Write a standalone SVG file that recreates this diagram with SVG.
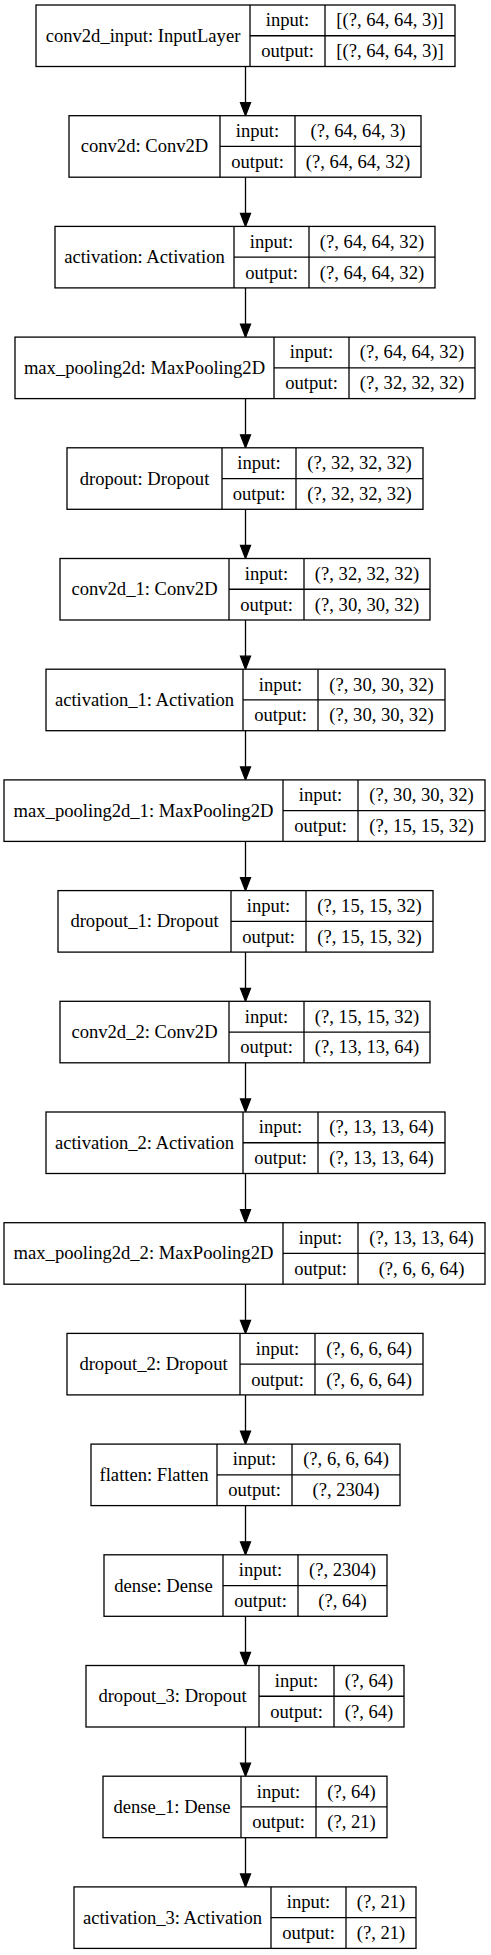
<svg xmlns="http://www.w3.org/2000/svg" width="491" height="1955" viewBox="0 0 491 1955">
<style>
rect.b{fill:#fff;stroke:#000;stroke-width:1.3}
line.s{stroke:#000;stroke-width:1.3}
text{font-family:"Liberation Serif","Times New Roman",serif;font-size:18.6px;fill:#000;text-anchor:middle}
.e line{stroke:#000;stroke-width:1.3}
.e polygon{fill:#000;stroke:#000;stroke-width:1.3}
</style>
<rect width="491" height="1955" fill="#fff"/>
<g class="e" id="edges">
<line x1="245.5" y1="66.5" x2="245.5" y2="102.7"/><polygon points="240.5,102.7 250.5,102.7 245.5,115.7"/>
<line x1="245.5" y1="177.2" x2="245.5" y2="213.4"/><polygon points="240.5,213.4 250.5,213.4 245.5,226.4"/>
<line x1="245.5" y1="287.9" x2="245.5" y2="324.1"/><polygon points="240.5,324.1 250.5,324.1 245.5,337.1"/>
<line x1="245.5" y1="398.6" x2="245.5" y2="434.8"/><polygon points="240.5,434.8 250.5,434.8 245.5,447.8"/>
<line x1="245.5" y1="509.3" x2="245.5" y2="545.5"/><polygon points="240.5,545.5 250.5,545.5 245.5,558.5"/>
<line x1="245.5" y1="620" x2="245.5" y2="656.2"/><polygon points="240.5,656.2 250.5,656.2 245.5,669.2"/>
<line x1="245.5" y1="730.7" x2="245.5" y2="766.9"/><polygon points="240.5,766.9 250.5,766.9 245.5,779.9"/>
<line x1="245.5" y1="841.4" x2="245.5" y2="877.6"/><polygon points="240.5,877.6 250.5,877.6 245.5,890.6"/>
<line x1="245.5" y1="952.1" x2="245.5" y2="988.3"/><polygon points="240.5,988.3 250.5,988.3 245.5,1001.3"/>
<line x1="245.5" y1="1062.8" x2="245.5" y2="1099"/><polygon points="240.5,1099 250.5,1099 245.5,1112"/>
<line x1="245.5" y1="1173.5" x2="245.5" y2="1209.7"/><polygon points="240.5,1209.7 250.5,1209.7 245.5,1222.7"/>
<line x1="245.5" y1="1284.2" x2="245.5" y2="1320.4"/><polygon points="240.5,1320.4 250.5,1320.4 245.5,1333.4"/>
<line x1="245.5" y1="1394.9" x2="245.5" y2="1431.1"/><polygon points="240.5,1431.1 250.5,1431.1 245.5,1444.1"/>
<line x1="245.5" y1="1505.6" x2="245.5" y2="1541.8"/><polygon points="240.5,1541.8 250.5,1541.8 245.5,1554.8"/>
<line x1="245.5" y1="1616.3" x2="245.5" y2="1652.5"/><polygon points="240.5,1652.5 250.5,1652.5 245.5,1665.5"/>
<line x1="245.5" y1="1727" x2="245.5" y2="1763.2"/><polygon points="240.5,1763.2 250.5,1763.2 245.5,1776.2"/>
<line x1="245.5" y1="1837.7" x2="245.5" y2="1873.9"/><polygon points="240.5,1873.9 250.5,1873.9 245.5,1886.9"/>
</g>
<g id="n0" transform="translate(0,5)"><rect class="b" x="36" y="0" width="419" height="61.5"/><line class="s" x1="250" y1="0" x2="250" y2="61.5"/><line class="s" x1="325" y1="0" x2="325" y2="61.5"/><line class="s" x1="250" y1="30.75" x2="455" y2="30.75"/><text x="143" y="36.8">conv2d_input: InputLayer</text><text x="287.5" y="21.4">input:</text><text x="287.5" y="52.2">output:</text><text x="390" y="21.4">[(?, 64, 64, 3)]</text><text x="390" y="52.2">[(?, 64, 64, 3)]</text></g>
<g id="n1" transform="translate(0,115.7)"><rect class="b" x="69" y="0" width="352" height="61.5"/><line class="s" x1="220" y1="0" x2="220" y2="61.5"/><line class="s" x1="295" y1="0" x2="295" y2="61.5"/><line class="s" x1="220" y1="30.75" x2="421" y2="30.75"/><text x="144.5" y="36.8">conv2d: Conv2D</text><text x="257.5" y="21.4">input:</text><text x="257.5" y="52.2">output:</text><text x="358" y="21.4">(?, 64, 64, 3)</text><text x="358" y="52.2">(?, 64, 64, 32)</text></g>
<g id="n2" transform="translate(0,226.4)"><rect class="b" x="55" y="0" width="380" height="61.5"/><line class="s" x1="234" y1="0" x2="234" y2="61.5"/><line class="s" x1="309" y1="0" x2="309" y2="61.5"/><line class="s" x1="234" y1="30.75" x2="435" y2="30.75"/><text x="144.5" y="36.8">activation: Activation</text><text x="271.5" y="21.4">input:</text><text x="271.5" y="52.2">output:</text><text x="372" y="21.4">(?, 64, 64, 32)</text><text x="372" y="52.2">(?, 64, 64, 32)</text></g>
<g id="n3" transform="translate(0,337.1)"><rect class="b" x="15" y="0" width="460" height="61.5"/><line class="s" x1="274" y1="0" x2="274" y2="61.5"/><line class="s" x1="349" y1="0" x2="349" y2="61.5"/><line class="s" x1="274" y1="30.75" x2="475" y2="30.75"/><text x="144.5" y="36.8">max_pooling2d: MaxPooling2D</text><text x="311.5" y="21.4">input:</text><text x="311.5" y="52.2">output:</text><text x="412" y="21.4">(?, 64, 64, 32)</text><text x="412" y="52.2">(?, 32, 32, 32)</text></g>
<g id="n4" transform="translate(0,447.8)"><rect class="b" x="67" y="0" width="356" height="61.5"/><line class="s" x1="222" y1="0" x2="222" y2="61.5"/><line class="s" x1="296" y1="0" x2="296" y2="61.5"/><line class="s" x1="222" y1="30.75" x2="423" y2="30.75"/><text x="144.5" y="36.8">dropout: Dropout</text><text x="259" y="21.4">input:</text><text x="259" y="52.2">output:</text><text x="359.5" y="21.4">(?, 32, 32, 32)</text><text x="359.5" y="52.2">(?, 32, 32, 32)</text></g>
<g id="n5" transform="translate(0,558.5)"><rect class="b" x="60" y="0" width="370" height="61.5"/><line class="s" x1="229" y1="0" x2="229" y2="61.5"/><line class="s" x1="304" y1="0" x2="304" y2="61.5"/><line class="s" x1="229" y1="30.75" x2="430" y2="30.75"/><text x="144.5" y="36.8">conv2d_1: Conv2D</text><text x="266.5" y="21.4">input:</text><text x="266.5" y="52.2">output:</text><text x="367" y="21.4">(?, 32, 32, 32)</text><text x="367" y="52.2">(?, 30, 30, 32)</text></g>
<g id="n6" transform="translate(0,669.2)"><rect class="b" x="46" y="0" width="399" height="61.5"/><line class="s" x1="243" y1="0" x2="243" y2="61.5"/><line class="s" x1="318" y1="0" x2="318" y2="61.5"/><line class="s" x1="243" y1="30.75" x2="445" y2="30.75"/><text x="144.5" y="36.8">activation_1: Activation</text><text x="280.5" y="21.4">input:</text><text x="280.5" y="52.2">output:</text><text x="381.5" y="21.4">(?, 30, 30, 32)</text><text x="381.5" y="52.2">(?, 30, 30, 32)</text></g>
<g id="n7" transform="translate(0,779.9)"><rect class="b" x="4" y="0" width="481" height="61.5"/><line class="s" x1="283" y1="0" x2="283" y2="61.5"/><line class="s" x1="358" y1="0" x2="358" y2="61.5"/><line class="s" x1="283" y1="30.75" x2="485" y2="30.75"/><text x="143.5" y="36.8">max_pooling2d_1: MaxPooling2D</text><text x="320.5" y="21.4">input:</text><text x="320.5" y="52.2">output:</text><text x="421.5" y="21.4">(?, 30, 30, 32)</text><text x="421.5" y="52.2">(?, 15, 15, 32)</text></g>
<g id="n8" transform="translate(0,890.6)"><rect class="b" x="58" y="0" width="375" height="61.5"/><line class="s" x1="231" y1="0" x2="231" y2="61.5"/><line class="s" x1="306" y1="0" x2="306" y2="61.5"/><line class="s" x1="231" y1="30.75" x2="433" y2="30.75"/><text x="144.5" y="36.8">dropout_1: Dropout</text><text x="268.5" y="21.4">input:</text><text x="268.5" y="52.2">output:</text><text x="369.5" y="21.4">(?, 15, 15, 32)</text><text x="369.5" y="52.2">(?, 15, 15, 32)</text></g>
<g id="n9" transform="translate(0,1001.3)"><rect class="b" x="60" y="0" width="370" height="61.5"/><line class="s" x1="229" y1="0" x2="229" y2="61.5"/><line class="s" x1="304" y1="0" x2="304" y2="61.5"/><line class="s" x1="229" y1="30.75" x2="430" y2="30.75"/><text x="144.5" y="36.8">conv2d_2: Conv2D</text><text x="266.5" y="21.4">input:</text><text x="266.5" y="52.2">output:</text><text x="367" y="21.4">(?, 15, 15, 32)</text><text x="367" y="52.2">(?, 13, 13, 64)</text></g>
<g id="n10" transform="translate(0,1112)"><rect class="b" x="46" y="0" width="399" height="61.5"/><line class="s" x1="243" y1="0" x2="243" y2="61.5"/><line class="s" x1="318" y1="0" x2="318" y2="61.5"/><line class="s" x1="243" y1="30.75" x2="445" y2="30.75"/><text x="144.5" y="36.8">activation_2: Activation</text><text x="280.5" y="21.4">input:</text><text x="280.5" y="52.2">output:</text><text x="381.5" y="21.4">(?, 13, 13, 64)</text><text x="381.5" y="52.2">(?, 13, 13, 64)</text></g>
<g id="n11" transform="translate(0,1222.7)"><rect class="b" x="4" y="0" width="481" height="61.5"/><line class="s" x1="283" y1="0" x2="283" y2="61.5"/><line class="s" x1="358" y1="0" x2="358" y2="61.5"/><line class="s" x1="283" y1="30.75" x2="485" y2="30.75"/><text x="143.5" y="36.8">max_pooling2d_2: MaxPooling2D</text><text x="320.5" y="21.4">input:</text><text x="320.5" y="52.2">output:</text><text x="421.5" y="21.4">(?, 13, 13, 64)</text><text x="421.5" y="52.2">(?, 6, 6, 64)</text></g>
<g id="n12" transform="translate(0,1333.4)"><rect class="b" x="67" y="0" width="356" height="61.5"/><line class="s" x1="240" y1="0" x2="240" y2="61.5"/><line class="s" x1="315" y1="0" x2="315" y2="61.5"/><line class="s" x1="240" y1="30.75" x2="423" y2="30.75"/><text x="153.5" y="36.8">dropout_2: Dropout</text><text x="277.5" y="21.4">input:</text><text x="277.5" y="52.2">output:</text><text x="369" y="21.4">(?, 6, 6, 64)</text><text x="369" y="52.2">(?, 6, 6, 64)</text></g>
<g id="n13" transform="translate(0,1444.1)"><rect class="b" x="91" y="0" width="309" height="61.5"/><line class="s" x1="217" y1="0" x2="217" y2="61.5"/><line class="s" x1="292" y1="0" x2="292" y2="61.5"/><line class="s" x1="217" y1="30.75" x2="400" y2="30.75"/><text x="154" y="36.8">flatten: Flatten</text><text x="254.5" y="21.4">input:</text><text x="254.5" y="52.2">output:</text><text x="346" y="21.4">(?, 6, 6, 64)</text><text x="346" y="52.2">(?, 2304)</text></g>
<g id="n14" transform="translate(0,1554.8)"><rect class="b" x="104" y="0" width="283" height="61.5"/><line class="s" x1="223" y1="0" x2="223" y2="61.5"/><line class="s" x1="298" y1="0" x2="298" y2="61.5"/><line class="s" x1="223" y1="30.75" x2="387" y2="30.75"/><text x="163.5" y="36.8">dense: Dense</text><text x="260.5" y="21.4">input:</text><text x="260.5" y="52.2">output:</text><text x="342.5" y="21.4">(?, 2304)</text><text x="342.5" y="52.2">(?, 64)</text></g>
<g id="n15" transform="translate(0,1665.5)"><rect class="b" x="86" y="0" width="318" height="61.5"/><line class="s" x1="259" y1="0" x2="259" y2="61.5"/><line class="s" x1="334" y1="0" x2="334" y2="61.5"/><line class="s" x1="259" y1="30.75" x2="404" y2="30.75"/><text x="172.5" y="36.8">dropout_3: Dropout</text><text x="296.5" y="21.4">input:</text><text x="296.5" y="52.2">output:</text><text x="369" y="21.4">(?, 64)</text><text x="369" y="52.2">(?, 64)</text></g>
<g id="n16" transform="translate(0,1776.2)"><rect class="b" x="103" y="0" width="284" height="61.5"/><line class="s" x1="241" y1="0" x2="241" y2="61.5"/><line class="s" x1="316" y1="0" x2="316" y2="61.5"/><line class="s" x1="241" y1="30.75" x2="387" y2="30.75"/><text x="172" y="36.8">dense_1: Dense</text><text x="278.5" y="21.4">input:</text><text x="278.5" y="52.2">output:</text><text x="351.5" y="21.4">(?, 64)</text><text x="351.5" y="52.2">(?, 21)</text></g>
<g id="n17" transform="translate(0,1886.9)"><rect class="b" x="74" y="0" width="342" height="61.5"/><line class="s" x1="271" y1="0" x2="271" y2="61.5"/><line class="s" x1="346" y1="0" x2="346" y2="61.5"/><line class="s" x1="271" y1="30.75" x2="416" y2="30.75"/><text x="172.5" y="36.8">activation_3: Activation</text><text x="308.5" y="21.4">input:</text><text x="308.5" y="52.2">output:</text><text x="381" y="21.4">(?, 21)</text><text x="381" y="52.2">(?, 21)</text></g>
</svg>
